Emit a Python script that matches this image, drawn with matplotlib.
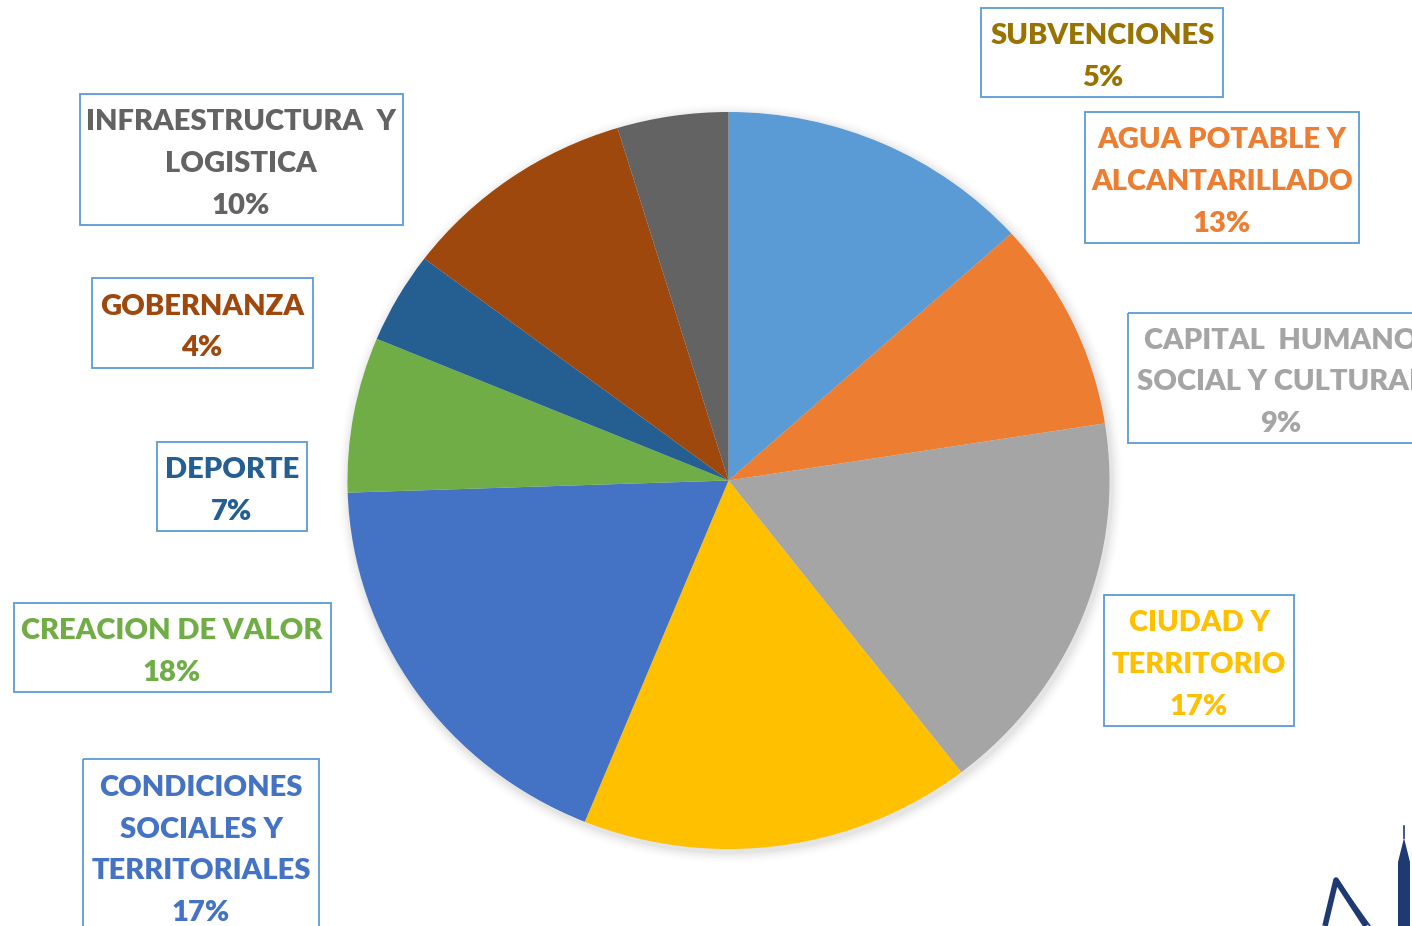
import numpy as np
import matplotlib
matplotlib.use("Agg")
import matplotlib.pyplot as plt
from matplotlib.patches import Rectangle, Ellipse, Polygon

W, H = 1412, 926

# slice shares (%) clockwise from 12 o'clock
slice_shares = [13.3, 9.2, 17.0, 16.6, 18.3, 6.8, 4.0, 10.0, 4.7]
slice_colors = ["#5B9BD5", "#ED7D31", "#A5A5A5", "#FFC000", "#4472C4",
                "#70AD47", "#255E91", "#9E480E", "#636363"]

# data labels (each one is paired with the slice before it in the picture)
label_names = [
    ["AGUA POTABLE Y", "ALCANTARILLADO"],
    ["CAPITAL  HUMANO", "SOCIAL Y CULTURAL"],
    ["CIUDAD Y", "TERRITORIO"],
    ["CONDICIONES", "SOCIALES Y", "TERRITORIALES"],
    ["CREACION DE VALOR"],
    ["DEPORTE"],
    ["GOBERNANZA"],
    ["INFRAESTRUCTURA  Y", "LOGISTICA"],
    ["SUBVENCIONES"],
]
label_values = [13, 9, 17, 17, 18, 7, 4, 10, 5]
label_colors = slice_colors[1:] + ["#997300"]

# label boxes in pixels: x0, y0, x1, y1
boxes = [
    (1085, 112, 1359, 243),
    (1128, 313, 1434, 443),
    (1104, 595, 1294, 726),
    (83, 759, 319, 933),
    (14, 603, 331, 692),
    (157, 442, 307, 531),
    (92, 278, 313, 368),
    (80, 94, 403, 225),
    (981, 8, 1223, 97),
]
text_cx = [1222, 1281, 1199, 201, 172, 232, 202, 241, 1103]

fig = plt.figure(figsize=(W / 100, H / 100), dpi=100)
fig.patch.set_facecolor("white")

# pie axes, y squashed a little so the pie is slightly wider than tall
rx, ry = 381, 368.5
k = rx / ry
ax = fig.add_axes([0, 0, 1, 1])
cx, cy = 728.5, (H - 480.5) * k

for i, a in enumerate(np.linspace(0.12, 0.02, 6)):
    ax.add_patch(Ellipse((cx + 2, cy - 3 * k), 2 * (rx + 2 + i * 2), 2 * (rx + 2 + i * 2),
                         facecolor="black", alpha=a * 0.25, edgecolor="none", zorder=0))

ax.pie(slice_shares, colors=slice_colors, startangle=90, counterclock=False,
       center=(cx, cy), radius=rx, frame=True, normalize=True,
       wedgeprops=dict(linewidth=0, antialiased=True))
ax.set_aspect("auto")
ax.set_xlim(0, W)
ax.set_ylim(0, H * k)
ax.axis("off")

# overlay in plain pixel coordinates for the label boxes
ov = fig.add_axes([0, 0, 1, 1])
ov.set_xlim(0, W)
ov.set_ylim(H, 0)
ov.axis("off")
ov.patch.set_alpha(0)

step = 41.7
for names, val, col, (x0, y0, x1, y1), tx in zip(label_names, label_values,
                                                  label_colors, boxes, text_cx):
    ov.add_patch(Rectangle((x0, y0), x1 - x0, y1 - y0, fill=False,
                           edgecolor="#5B9BD5", linewidth=1.3, clip_on=False))
    lines = names + [f"{val}%"]
    n = len(lines)
    mid = (y0 + y1) / 2 + 1.5
    for j, s in enumerate(lines):
        y = mid + (j - (n - 1) / 2) * step
        ov.text(tx, y + 11, s, ha="center", va="baseline", color=col,
                fontsize=21, fontweight="heavy", family="Lato")

# small logo in the bottom-right corner
navy = "#1F3A73"
ov.add_patch(Polygon([(1398, 926), (1398, 862), (1401, 850), (1404, 838),
                      (1407, 850), (1410, 862), (1410, 926)],
                     closed=True, facecolor=navy, edgecolor="none", clip_on=False))
ov.plot([1404, 1404], [838, 826], color=navy, lw=1.2)
ov.plot([1325, 1336, 1366], [926, 880, 926], color=navy, lw=4, solid_capstyle="butt")
ov.plot([1340, 1370], [884, 926], color=navy, lw=1.2)

fig.savefig("out.png", dpi=100, facecolor="white")
